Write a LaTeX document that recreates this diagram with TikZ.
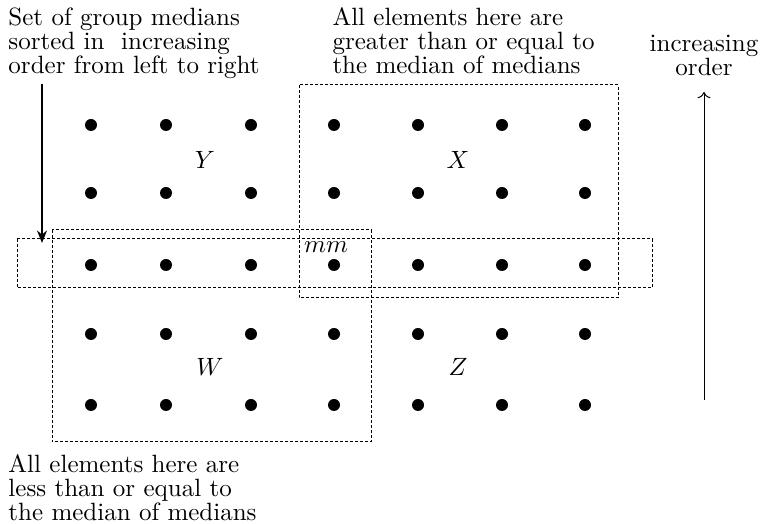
\documentclass[tikz,border=0pt]{standalone}
\usetikzlibrary{arrows.meta}
\begin{document}
\begin{tikzpicture}[x=0.4pt,y=-0.4pt,
  elem/.style={circle,fill=black,inner sep=0pt,minimum size=4.8pt},
  grp/.style={draw,dash pattern=on 1.2pt off 0.8pt,line width=0.4pt},
  txt/.style={anchor=base west,inner sep=0pt,font=\fontsize{10}{9.6}\selectfont},
  ctxt/.style={anchor=base,inner sep=0pt,font=\fontsize{10}{9.6}\selectfont},
  lbl/.style={inner sep=0pt}]
\useasboundingbox (0,0) rectangle (760,524);
% dots
\foreach \c/\x in {1/91,2/166,3/251,4/334,5/418,6/502,7/585}{
  \foreach \r/\y in {1/125,2/193,3/265,4/334,5/405}{
    \node[elem] (d\r\c) at (\x,\y) {};
  }
}
% group rectangles
\draw[grp] (17,239) rectangle (652,288);
\draw[grp] (299,85) rectangle (618,298);
\draw[grp] (52,230) rectangle (371,442);
% labels
\node[lbl] (Y) at (205,160) {$Y$};
\node[lbl] (X) at (458,160) {$X$};
\node[lbl] (W) at (210,367) {$W$};
\node[lbl] (Z) at (458,367) {$Z$};
\node[lbl] (mm) at (326,247) {$mm$};
% top-left text
\node[txt] (t1) at (8,26) {Set of group medians};
\node[txt] (t2) at (8,50) {sorted in\ \ increasing};
\node[txt] (t3) at (8,74) {order from left to right};
% top-middle text
\node[txt] (u1) at (332,26) {All elements here are};
\node[txt] (u2) at (332,50) {greater than or equal to};
\node[txt] (u3) at (332,74) {the median of medians};
% bottom text
\node[txt] (b1) at (8,473) {All elements here are};
\node[txt] (b2) at (8,497) {less than or equal to};
\node[txt] (b3) at (8,521) {the median of medians};
% right text
\node[ctxt] (r1) at (704,52) {increasing};
\node[ctxt] (r2) at (704,76) {order};
% arrows
\coordinate (la) at (42,84);
\coordinate (lb) at (42,243);
\draw[line width=0.6pt,-{Stealth[length=5pt,width=4pt]}] (la) -- (lb);
\coordinate (ra) at (704,400);
\coordinate (rb) at (704,92);
\draw[line width=0.4pt,->] (ra) -- (rb);
\end{tikzpicture}
\end{document}
